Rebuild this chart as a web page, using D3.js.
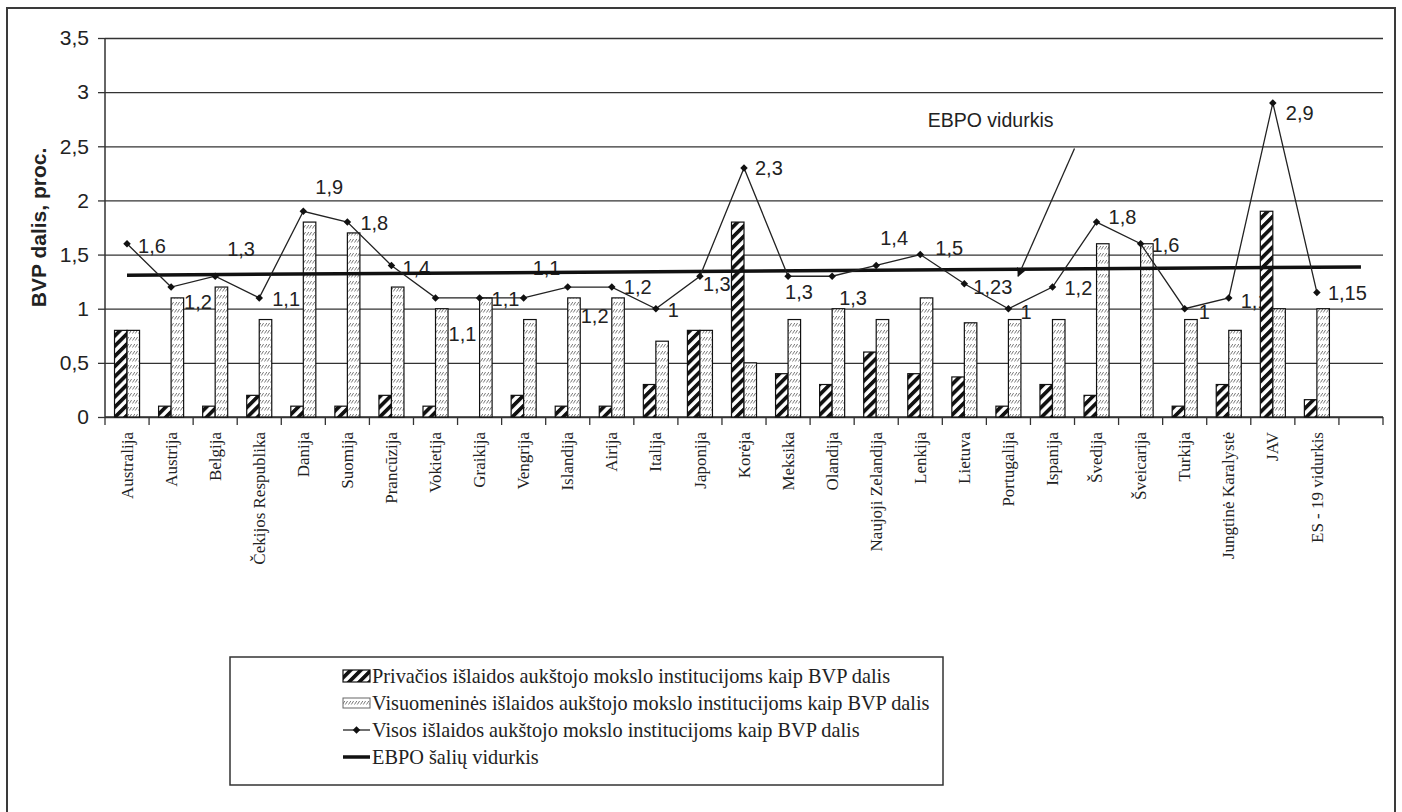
<!DOCTYPE html>
<html><head><meta charset="utf-8">
<script src="https://cdn.jsdelivr.net/npm/d3@7"></script>
<style>body{margin:0;background:#fff} svg{display:block}</style>
</head><body>
<svg id="c" width="1402" height="812"></svg>
<script>
// ---------- DATA ----------
const categories = ["Australija","Austrija","Belgija","Čekijos Respublika","Danija","Suomija","Prancūzija","Vokietija","Graikija","Vengrija","Islandija","Airija","Italija","Japonija","Korėja","Meksika","Olandija","Naujoji Zelandija","Lenkija","Lietuva","Portugalija","Ispanija","Švedija","Šveicarija","Turkija","Jungtinė Karalystė","JAV","ES - 19 vidurkis"];
const privateValues = [0.8,0.1,0.1,0.2,0.1,0.1,0.2,0.1,0,0.2,0.1,0.1,0.3,0.8,1.8,0.4,0.3,0.6,0.4,0.37,0.1,0.3,0.2,0,0.1,0.3,1.9,0.16];
const publicValues  = [0.8,1.1,1.2,0.9,1.8,1.7,1.2,1.0,1.1,0.9,1.1,1.1,0.7,0.8,0.5,0.9,1.0,0.9,1.1,0.87,0.9,0.9,1.6,1.6,0.9,0.8,1.0,1.0];
const totalValues   = [1.6,1.2,1.3,1.1,1.9,1.8,1.4,1.1,1.1,1.1,1.2,1.2,1,1.3,2.3,1.3,1.3,1.4,1.5,1.23,1,1.2,1.8,1.6,1,1.1,2.9,1.15];
const ebpoAvgCats   = ["Australija",""];
const ebpoAvgValues = [1.31,1.385];
const yTicks = [0,0.5,1,1.5,2,2.5,3,3.5];
const legendLabels = [
  "Privačios išlaidos aukštojo mokslo institucijoms kaip BVP dalis",
  "Visuomeninės išlaidos aukštojo mokslo institucijoms kaip BVP dalis",
  "Visos išlaidos aukštojo mokslo institucijoms kaip BVP dalis",
  "EBPO šalių vidurkis"];
const yTitle = "BVP dalis, proc.";
const annotationText = "EBPO vidurkis";

// ---------- LAYOUT (label placement offsets, px) ----------
const labelOffsets = [[11,2],[13,15],[12,-27],[13,1],[12,-24],[13,1],[11,2],[13,36],[12,1],[9,-30],[13,29],[12,0],[12,1],[3,8],[11,0],[-3,16],[7,22],[4,-28],[15,-7],[9,3],[12,3],[12,1],[12,-5],[11,1],[14,3],[12,3],[13,10],[11,0]];

const SANS = "'Liberation Sans', Arial, sans-serif";
const SERIF = "'Liberation Serif', 'Times New Roman', serif";
const fmt = v => String(v).replace(".", ",");

const svg = d3.select("#c");
const plot = {left:105, right:1383, top:38, bottom:417};
const xDomain = categories.concat([""]);
const x = d3.scaleBand().domain(xDomain).range([plot.left, plot.right]);
const y = d3.scaleLinear().domain([0,3.5]).range([plot.bottom, plot.top]);
const cx = c => x(c) + x.bandwidth()/2;
const half = x.bandwidth()*0.284;
const sub = d3.scaleBand().domain(["priv","pub"]).range([-half, half]);
const marker = d3.symbol().type(d3.symbolDiamond2).size(36);

// patterns
const defs = svg.append("defs");
const p1 = defs.append("pattern").attr("id","hatchDark").attr("patternUnits","userSpaceOnUse")
  .attr("width",7.2).attr("height",7.2).attr("patternTransform","rotate(45)");
p1.append("rect").attr("width",7.2).attr("height",7.2).attr("fill","#fff");
p1.append("line").attr("x1",1.8).attr("y1",0).attr("x2",1.8).attr("y2",7.2).attr("stroke","#111").attr("stroke-width",3.8);
const p2 = defs.append("pattern").attr("id","hatchLight").attr("patternUnits","userSpaceOnUse")
  .attr("width",6).attr("height",7);
p2.append("rect").attr("width",6).attr("height",7).attr("fill","#fff");
p2.append("line").attr("x1",0.5).attr("y1",4.5).attr("x2",2.8).attr("y2",1).attr("stroke","#7a7a7a").attr("stroke-width",1);
p2.append("line").attr("x1",3.3).attr("y1",4.5).attr("x2",5.6).attr("y2",1).attr("stroke","#7a7a7a").attr("stroke-width",1);
defs.append("marker").attr("id","arrow").attr("viewBox","0 0 10 10").attr("refX",9).attr("refY",5)
  .attr("markerWidth",9).attr("markerHeight",9).attr("markerUnits","userSpaceOnUse").attr("orient","auto")
  .append("path").attr("d","M0,0L10,5L0,10z").attr("fill","#111");

// frame
svg.append("rect").attr("x",7).attr("y",8).attr("width",1388).attr("height",820)
  .attr("fill","none").attr("stroke","#3a3a3a").attr("stroke-width",2);

// y axis + grid
const yAxis = svg.append("g").attr("transform",`translate(${plot.left},0)`)
  .call(d3.axisLeft(y).tickValues(yTicks).tickSize(7).tickPadding(9).tickFormat(fmt));
yAxis.select(".domain").remove();
yAxis.selectAll(".tick line").attr("stroke","#333").attr("stroke-width",1.3);
yAxis.selectAll(".tick").append("line").attr("x2",plot.right-plot.left).attr("stroke","#333").attr("stroke-width",1.3);
yAxis.selectAll("text").attr("font-family",SANS).attr("font-size",21).attr("fill","#222");
svg.append("line").attr("x1",plot.left).attr("x2",plot.left).attr("y1",plot.top).attr("y2",plot.bottom)
  .attr("stroke","#333").attr("stroke-width",1.5);

// y title
svg.append("text").attr("transform",`translate(46,${(plot.top+plot.bottom)/2}) rotate(-90)`)
  .attr("text-anchor","middle").attr("font-family",SANS).attr("font-weight","bold").attr("font-size",21)
  .attr("fill","#222").text(yTitle);

// x axis
const xAxis = svg.append("g").attr("transform",`translate(0,${plot.bottom})`)
  .call(d3.axisBottom(x).tickSize(0).tickPadding(0));
xAxis.select(".domain").remove();
xAxis.selectAll("text").attr("transform","rotate(-90)").attr("text-anchor","end")
  .attr("x",-15).attr("y",0).attr("dy","0.33em")
  .attr("font-family",SERIF).attr("font-size",17).attr("fill","#222");
xAxis.append("line").attr("x1",plot.left).attr("x2",plot.right).attr("stroke","#333").attr("stroke-width",1.5);
xAxis.selectAll(".bnd").data(xDomain.map(c=>x(c)).concat([plot.right])).enter().append("line")
  .attr("x1",d=>d).attr("x2",d=>d).attr("y1",0).attr("y2",8).attr("stroke","#333").attr("stroke-width",1.3);

// data labels (beneath bars)
svg.append("g").selectAll("text").data(totalValues).enter().append("text")
  .attr("x",(d,i)=>cx(categories[i]) + labelOffsets[i][0])
  .attr("y",(d,i)=>y(d) + labelOffsets[i][1]).attr("dy","0.36em")
  .attr("font-family",SANS).attr("font-size",20).attr("fill","#222").text(fmt);

// bars
const bars = svg.append("g");
bars.selectAll(".bp").data(privateValues).enter().append("rect")
  .attr("x",(d,i)=>cx(categories[i]) + sub("priv")).attr("width",sub.bandwidth())
  .attr("y",d=>y(d)).attr("height",d=>y(0)-y(d))
  .attr("fill","url(#hatchDark)").attr("stroke",d=>d>0?"#111":"none").attr("stroke-width",1.2);
bars.selectAll(".bq").data(publicValues).enter().append("rect")
  .attr("x",(d,i)=>cx(categories[i]) + sub("pub")).attr("width",sub.bandwidth())
  .attr("y",d=>y(d)).attr("height",d=>y(0)-y(d))
  .attr("fill","url(#hatchLight)").attr("stroke","#111").attr("stroke-width",1.2);

// EBPO average line
svg.append("path").datum(ebpoAvgValues)
  .attr("d", d3.line().x((d,i)=>cx(ebpoAvgCats[i])).y(d=>y(d)))
  .attr("fill","none").attr("stroke","#111").attr("stroke-width",3.5);

// total line
svg.append("path").datum(totalValues)
  .attr("d", d3.line().x((d,i)=>cx(categories[i])).y(d=>y(d)))
  .attr("fill","none").attr("stroke","#222").attr("stroke-width",1.3);
svg.append("g").selectAll("path").data(totalValues).enter().append("path")
  .attr("transform",(d,i)=>`translate(${cx(categories[i])},${y(d)})`)
  .attr("d", marker).attr("fill","#111");

// annotation
const tipX = x("Portugalija") + x.bandwidth()*0.72, tipY = y(1.3);
const startX = x("Švedija"), startY = y(2.48);
svg.append("line").attr("x1",startX).attr("y1",startY).attr("x2",tipX).attr("y2",tipY)
  .attr("stroke","#222").attr("stroke-width",1.3).attr("marker-end","url(#arrow)");
svg.append("text").attr("x",x("Lenkija") + x.bandwidth()*0.67).attr("y",y(2.74)).attr("dy","0.36em")
  .attr("font-family",SANS).attr("font-size",19.5).attr("fill","#222").text(annotationText);

// legend
const lg = svg.append("g");
lg.append("rect").attr("x",230).attr("y",657).attr("width",713).attr("height",128)
  .attr("fill","#fff").attr("stroke","#333").attr("stroke-width",1.5);
const rowY = i => 676 + i*27;
const sx = 343, sw = 27;
lg.append("rect").attr("x",sx).attr("y",rowY(0)-6).attr("width",sw).attr("height",12)
  .attr("fill","url(#hatchDark)").attr("stroke","#111").attr("stroke-width",1.2);
lg.append("rect").attr("x",sx).attr("y",rowY(1)-5).attr("width",sw).attr("height",10)
  .attr("fill","url(#hatchLight)").attr("stroke","#666").attr("stroke-width",1);
lg.append("line").attr("x1",sx).attr("x2",sx+sw).attr("y1",rowY(2)).attr("y2",rowY(2)).attr("stroke","#222").attr("stroke-width",1.3);
lg.append("path").attr("transform",`translate(${sx+sw/2},${rowY(2)})`).attr("d",marker).attr("fill","#111");
lg.append("line").attr("x1",sx).attr("x2",sx+sw).attr("y1",rowY(3)).attr("y2",rowY(3)).attr("stroke","#111").attr("stroke-width",3.5);
lg.selectAll(".lt").data(legendLabels).enter().append("text")
  .attr("x",sx+sw+2).attr("y",(d,i)=>rowY(i)).attr("dy","0.34em")
  .attr("font-family",SERIF).attr("font-size",20.3).attr("fill","#222").text(d=>d);
</script>
</body></html>
